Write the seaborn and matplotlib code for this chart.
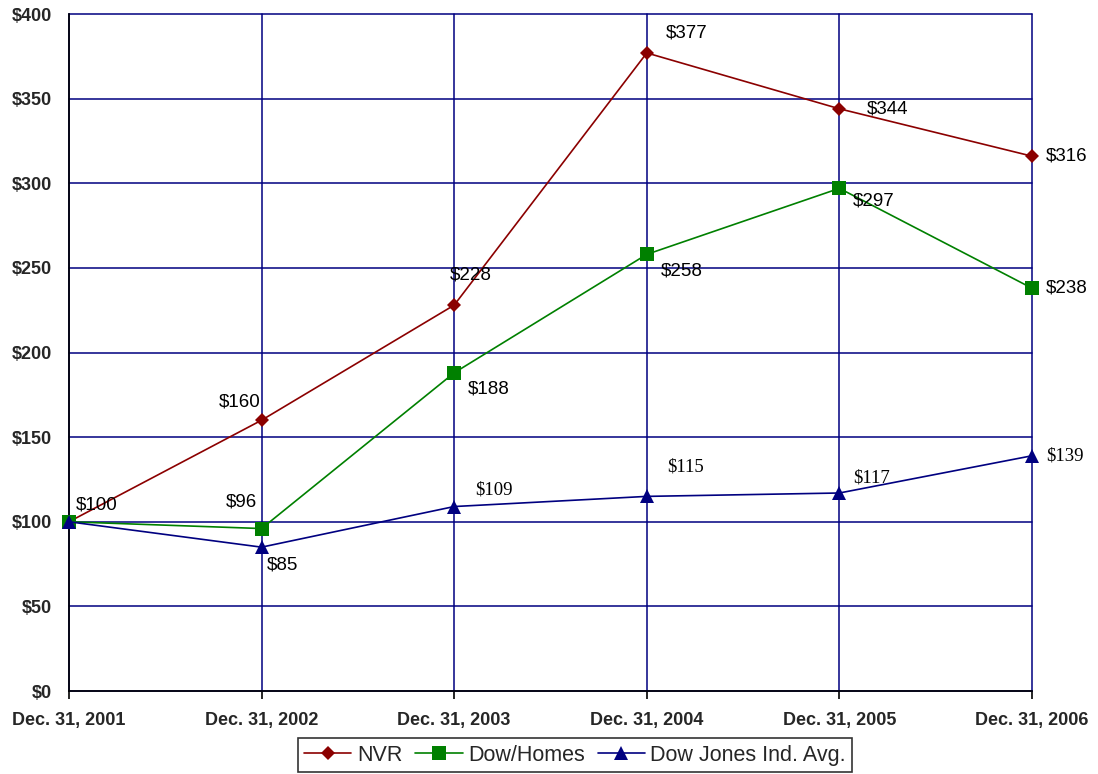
import matplotlib
matplotlib.use("Agg")
import matplotlib.pyplot as plt
import seaborn as sns
import pandas as pd
from matplotlib.lines import Line2D

dates = ["Dec. 31, 2001", "Dec. 31, 2002", "Dec. 31, 2003",
         "Dec. 31, 2004", "Dec. 31, 2005", "Dec. 31, 2006"]
nvr = [100, 160, 228, 377, 344, 316]
dow_homes = [100, 96, 188, 258, 297, 238]
djia = [100, 85, 109, 115, 117, 139]
series_names = ["NVR", "Dow/Homes", "Dow Jones Ind. Avg."]
yticks = [0, 50, 100, 150, 200, 250, 300, 350, 400]

sns.set_theme(style="white")
plt.rcParams['font.family'] = ['Liberation Sans', 'DejaVu Sans']

rows = []
for name, vals in zip(series_names, [nvr, dow_homes, djia]):
    for i, v in enumerate(vals):
        rows.append({"pos": i, "value": v, "series": name})
df = pd.DataFrame(rows)

colors = {"NVR": "#8B0000", "Dow/Homes": "#008000", "Dow Jones Ind. Avg.": "#000080"}
markers = {"NVR": "D", "Dow/Homes": "s", "Dow Jones Ind. Avg.": "^"}
msizes = {"NVR": 7.5, "Dow/Homes": 9.5, "Dow Jones Ind. Avg.": 10}

fig = plt.figure(figsize=(10.98, 7.74), dpi=100)
ax = fig.add_axes([0.0628, 0.1072, 0.9399 - 0.0628, 0.9819 - 0.1072])

sns.lineplot(data=df, x="pos", y="value", hue="series", style="series",
             palette=colors, markers=markers, dashes=False, linewidth=1.2,
             markeredgewidth=0, ax=ax, legend=False, zorder=3)
for line, name in zip(ax.get_lines(), series_names):
    line.set_markersize(msizes[name])
    line.set_clip_on(False)

ax.set_xlim(0, len(dates) - 1)
ax.set_ylim(0, 400)
ax.set_xticks(range(len(dates)))
ax.set_xticklabels(dates, fontsize=13, fontweight="bold")
ax.set_yticks(yticks)
ax.set_yticklabels([f"${t}" for t in yticks], fontsize=13, fontweight="bold")
ax.set_xlabel("")
ax.set_ylabel("")
ax.grid(True, color="#000080", linewidth=1.1)
ax.set_axisbelow(True)
for gl in ax.get_xgridlines() + ax.get_ygridlines():
    gl.set_clip_on(False)
for s in ["top", "right"]:
    ax.spines[s].set_visible(False)
for s in ["left", "bottom"]:
    ax.spines[s].set_color("black")
    ax.spines[s].set_linewidth(1.2)
    ax.spines[s].set_zorder(2.5)
ax.tick_params(axis="x", length=6, width=1.2, color="black", direction="out",
               bottom=True, pad=9)
ax.tick_params(axis="y", length=0, pad=12)

label_offsets = {
    "NVR": [(5, 12), (-31, 13), (-3, 22), (14, 14), (20, 0), (10, 0)],
    "Dow/Homes": [(0, 0), (-26, 19), (10, -12), (10, -12), (10, -9), (10, 0)],
    "Dow Jones Ind. Avg.": [(0, 0), (4, -13), (15, 12), (15, 21), (10, 11), (10, 0)],
}
serif_lbl = {"Dow Jones Ind. Avg.": [False, False, True, True, True, True]}
for name, vals in zip(series_names, [nvr, dow_homes, djia]):
    for i, v in enumerate(vals):
        if i == 0 and name != "NVR":
            continue
        dx, dy = label_offsets[name][i]
        fam = ['Liberation Serif'] if serif_lbl.get(name, [False] * 6)[i] else ['Liberation Sans']
        ax.annotate(f"${v}", (i, v), xytext=(dx, dy), textcoords="offset points",
                    fontsize=13.5, family=fam, color="#000000",
                    ha="left", va="center", zorder=5, annotation_clip=False)

handles = [Line2D([0], [0], color=colors[n], marker=markers[n], markersize=msizes[n],
                  markeredgewidth=0, linewidth=1.2) for n in series_names]
leg = fig.legend(handles, series_names, loc="center", bbox_to_anchor=(0.5237, 0.0245),
                 ncol=3, frameon=True, fancybox=False, edgecolor="black",
                 fontsize=15.5, handlelength=2.2, handletextpad=0.25, columnspacing=0.6,
                 borderpad=0.3)
leg.get_frame().set_linewidth(1.2)

fig.savefig("out.png", dpi=100)
